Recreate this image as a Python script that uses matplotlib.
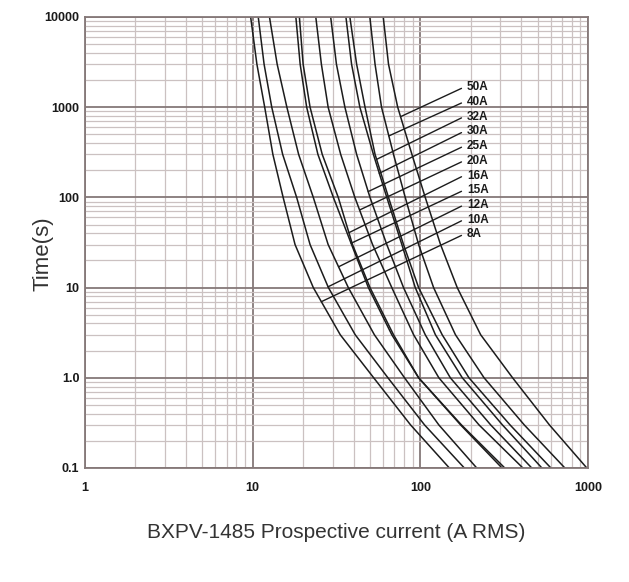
import numpy as np
import matplotlib
matplotlib.use("Agg")
import matplotlib.pyplot as plt
from matplotlib.ticker import FixedLocator, LogLocator, NullFormatter

plt.rcParams['font.family'] = ['Liberation Sans', 'DejaVu Sans']

# time points (s) at which each curve was read
times = [10000, 3000, 1000, 300, 100, 30, 10, 3, 1, 0.3, 0.1]

# prospective current (A) per fuse rating at those times
cur_8A = [9.73, 10.6, 11.8, 13.2, 15.2, 17.9, 23.0, 33.3, 52.7, 87.5, 149]
cur_10A = [10.8, 11.7, 13.0, 15.1, 18.3, 22.0, 28.3, 40.9, 64.1, 106, 183]
cur_12A = [12.6, 14.0, 16.0, 18.8, 23.0, 28.2, 37.2, 53.2, 80.5, 129, 217]
cur_15A = [18.1, 19.2, 21.0, 24.5, 30.3, 38.9, 49.0, 67.6, 97.7, 174, 307]
cur_16A = [19.0, 20.0, 22.0, 26.0, 32.4, 39.4, 50.1, 69.2, 97.7, 176, 319]
cur_20A = [23.8, 25.7, 28.2, 33.5, 40.7, 51.9, 67.6, 91.2, 129, 224, 409]
cur_25A = [29.2, 31.6, 35.5, 41.7, 50.1, 63.1, 79.4, 107, 151, 263, 462]
cur_30A = [36.0, 38.9, 43.6, 52.5, 63.1, 77.6, 93.3, 123, 178, 309, 531]
cur_32A = [38.0, 41.7, 46.8, 53.7, 64.6, 79.4, 97.7, 135, 195, 343, 601]
cur_40A = [50.0, 53.7, 58.7, 69.2, 81.3, 97.7, 120, 162, 240, 417, 728]
cur_50A = [60.1, 64.6, 73.3, 89.1, 107, 132, 166, 229, 355, 589, 984]

ratings = ['8A', '10A', '12A', '15A', '16A', '20A', '25A', '30A', '32A', '40A', '50A']
curves = [cur_8A, cur_10A, cur_12A, cur_15A, cur_16A, cur_20A,
          cur_25A, cur_30A, cur_32A, cur_40A, cur_50A]
# time (s) where each label's leader line touches its curve
callout_t = [6.98, 10.2, 17, 31, 40.6, 72.5, 116, 185, 264, 480, 785]

y_ticks = [0.1, 1, 10, 100, 1000, 10000]
y_labels = ['0.1', '1.0', '10', '100', '1000', '10000']
x_ticks = [1, 10, 100, 1000]
x_labels = ['1', '10', '100', '1000']

fig = plt.figure(figsize=(6.29, 5.82), dpi=100)
ax = fig.add_axes([0.1351, 0.1959, 0.7997, 0.7749])
ax.set_xscale('log')
ax.set_yscale('log')
ax.set_xlim(1, 1000)
ax.set_ylim(0.1, 10000)

major_c = '#857878'
minor_c = '#cbc1c1'
ax.xaxis.set_major_locator(FixedLocator(x_ticks))
ax.yaxis.set_major_locator(FixedLocator(y_ticks))
ax.xaxis.set_minor_locator(LogLocator(base=10, subs=np.arange(2, 10)))
ax.yaxis.set_minor_locator(LogLocator(base=10, subs=np.arange(2, 10)))
ax.xaxis.set_minor_formatter(NullFormatter())
ax.yaxis.set_minor_formatter(NullFormatter())
ax.set_xticklabels(x_labels)
ax.set_yticklabels(y_labels)
ax.grid(which='major', color=major_c, lw=1.3)
ax.grid(which='minor', color=minor_c, lw=0.9)
ax.set_axisbelow(True)
ax.tick_params(which='both', length=0)
ax.tick_params(axis='y', pad=4, labelsize=9, labelcolor='#1a1a1a')
ax.tick_params(axis='x', pad=10, labelsize=9, labelcolor='#1a1a1a')
for lab in ax.get_xticklabels() + ax.get_yticklabels():
    lab.set_fontweight('bold')
for sp in ax.spines.values():
    sp.set_color(major_c)
    sp.set_linewidth(1.3)

log_t = np.log10(times)[::-1]
for i, (name, cur) in enumerate(zip(ratings, curves)):
    ax.plot(cur, times, color='#1c1c1c', lw=1.1, solid_joinstyle='round')
    # leader line from curve to label
    tc = callout_t[i]
    ic = 10 ** np.interp(np.log10(tc), log_t, np.log10(cur)[::-1])
    yf = 0.844 - 0.0326 * (len(ratings) - 1 - i)
    ax.annotate(name, xy=(ic, tc), xycoords='data',
                xytext=(0.759, yf), textcoords='axes fraction',
                ha='left', va='center', fontsize=8.5, fontweight='bold',
                color='#1a1a1a',
                arrowprops=dict(arrowstyle='-', color='#1c1c1c', lw=1.0,
                                shrinkA=2, shrinkB=0, relpos=(0, 0.62)))

ax.set_ylabel('Time(s)', fontsize=16, color='#333333')
ax.yaxis.set_label_coords(-0.062, 0.475)
fig.text(0.535, 1 - 532 / 582, 'BXPV-1485 Prospective current (A RMS)',
         ha='center', va='center', fontsize=15, color='#333333')

fig.savefig('out.png', dpi=100, facecolor='white')
